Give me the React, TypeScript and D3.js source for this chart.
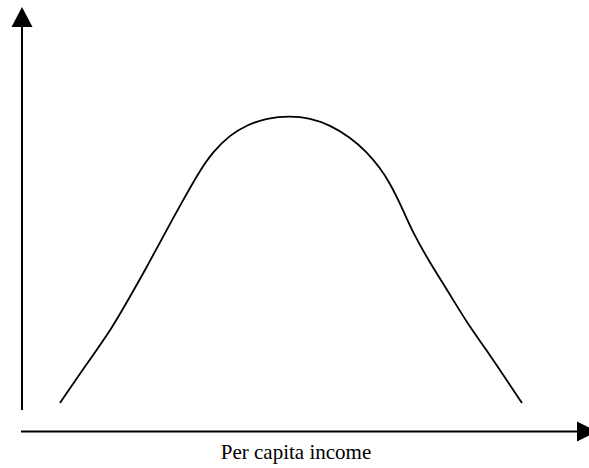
import React, { useEffect, useRef } from "react";
import { select, scaleLinear, line, curveBasis } from "d3";

// Inverted-U curve (income on x, the unlabeled measure on y), values on a 0-100 scale
const incomeValues = [6.9, 11.5, 16.4, 19.6, 22.7, 25.6, 29.3, 32.4, 34.7, 37.8, 40.9, 44.5, 48.7, 52.4, 56, 59.6, 62.7, 65.1, 66.9, 69.3, 71.1, 74.2, 77.3, 81.5, 84.5, 90.9];
const levelValues = [7, 16.25, 25.75, 33.5, 41, 48.5, 57.75, 65.25, 69.75, 74, 76.5, 78.25, 78.75, 78.25, 76.5, 73.5, 69.75, 65.75, 62, 55.25, 49.5, 42, 35.25, 25.75, 20.25, 7];

const xAxisLabel = "Per capita income";

const WIDTH = 589;
const HEIGHT = 468;

export default function App() {
  const ref = useRef<SVGSVGElement>(null);

  useEffect(() => {
    const svg = select(ref.current);
    svg.selectAll("*").remove();

    // scales: 0..100 mapped to the drawing area
    const xScale = scaleLinear().domain([0, 100]).range([22, 572]);
    const yScale = scaleLinear().domain([0, 100]).range([431, 31]);

    const axisX = 22; // where the vertical axis sits
    const axisY = 431.5; // where the horizontal axis sits

    // vertical axis with arrowhead on top
    svg.append("line")
      .attr("x1", axisX).attr("x2", axisX)
      .attr("y1", 410).attr("y2", 24)
      .attr("stroke", "#000")
      .attr("stroke-width", 2);
    svg.append("path")
      .attr("d", `M${axisX},7 L${axisX - 10.5},27 L${axisX + 10.5},27 Z`)
      .attr("fill", "#000");

    // horizontal axis with arrowhead on the right (tip runs off the page)
    svg.append("line")
      .attr("x1", 21).attr("x2", 580)
      .attr("y1", axisY).attr("y2", axisY)
      .attr("stroke", "#000")
      .attr("stroke-width", 2);
    svg.append("path")
      .attr("d", `M597,${axisY} L577,${axisY - 10} L577,${axisY + 10} Z`)
      .attr("fill", "#000");

    // the curve, basis spline to smooth out reading noise
    const pts = incomeValues.map((x, i) => [x, levelValues[i]] as [number, number]);
    const curve = line<[number, number]>()
      .x(d => xScale(d[0]))
      .y(d => yScale(d[1]))
      .curve(curveBasis);

    svg.append("path")
      .attr("d", curve(pts))
      .attr("fill", "none")
      .attr("stroke", "#000")
      .attr("stroke-width", 1.8);

    // axis label
    svg.append("text")
      .attr("x", 296)
      .attr("y", 459)
      .attr("text-anchor", "middle")
      .attr("font-family", "'Liberation Serif', 'Times New Roman', serif")
      .attr("font-size", 21)
      .attr("fill", "#000")
      .text(xAxisLabel);
  }, []);

  return (
    <svg
      ref={ref}
      width={WIDTH}
      height={HEIGHT}
      style={{ position: "absolute", left: 0, top: 0, background: "#fff", overflow: "hidden" }}
    />
  );
}
